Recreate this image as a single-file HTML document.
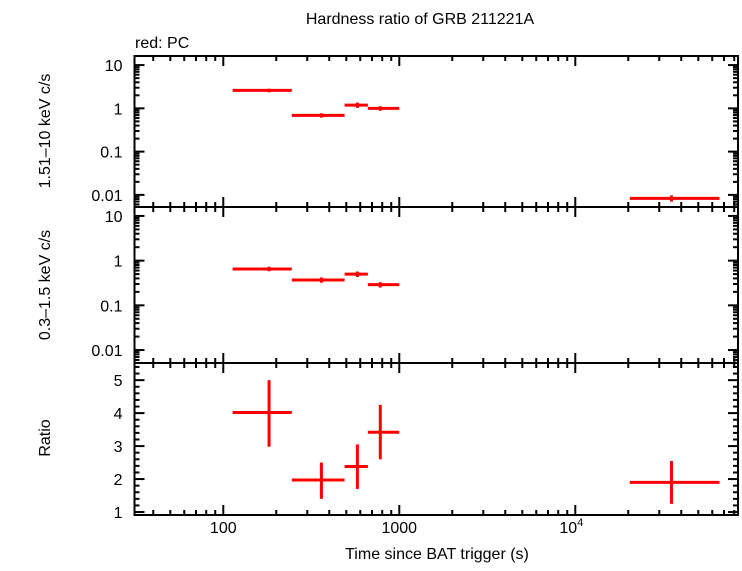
<!DOCTYPE html>
<html><head><meta charset="utf-8"><style>
body{margin:0;background:#fff;}
svg text{font-family:"Liberation Sans",sans-serif;fill:#000;}
</style></head><body>
<svg id="c" width="742" height="566" xmlns="http://www.w3.org/2000/svg">
<text x="420" y="24" font-size="16" text-anchor="middle">Hardness ratio of GRB 211221A</text>
<text x="135" y="48" font-size="16">red: PC</text>
<text transform="translate(50,131) rotate(-90)" font-size="16" text-anchor="middle">1.51–10 keV c/s</text>
<text transform="translate(50,285) rotate(-90)" font-size="16" text-anchor="middle">0.3–1.5 keV c/s</text>
<text transform="translate(50,438) rotate(-90)" font-size="16" text-anchor="middle">Ratio</text>
<text x="437" y="559" font-size="16" text-anchor="middle">Time since BAT trigger (s)</text>
<g id="g"></g>
</svg>
<script>
const tCenter=[182,361,578,780,35200];
const tLo=[113,245,489,663,20400];
const tHi=[245,489,663,1000,66000];
const hard=[2.6,0.69,1.19,1.0,0.0083];
const hardLo=[2.35,0.61,1.02,0.88,0.0070];
const hardHi=[2.85,0.77,1.36,1.12,0.0097];
const soft=[0.65,0.37,0.5,0.29];
const softLo=[0.58,0.32,0.43,0.25];
const softHi=[0.73,0.42,0.57,0.33];
const ratio=[4.02,1.97,2.38,3.42,1.9];
const ratioLo=[2.98,1.4,1.7,2.6,1.25];
const ratioHi=[5.0,2.5,3.05,4.25,2.55];
const xTicks=[100,1000,10000];
const yLogTicks=[10,1,0.1,0.01];
const yRatioTicks=[1,2,3,4,5];

const NS="http://www.w3.org/2000/svg";
const g=document.getElementById('g');
const L=134.5,R=738;
const X=v=>L+(Math.log10(v)-Math.log10(31.3))*176;
const panels=[{t:56,b:207,lo:-2.28,hi:1.21,log:true},{t:207,b:363,lo:-2.29,hi:1.2,log:true},{t:363,b:515,lo:0.91,hi:5.52,log:false}];
function Y(p,v){const u=p.log?Math.log10(v):v;return p.b-(u-p.lo)/(p.hi-p.lo)*(p.b-p.t);}
function line(x1,y1,x2,y2,c,w,name){const l=document.createElementNS(NS,'line');
l.setAttribute('x1',x1);l.setAttribute('y1',y1);l.setAttribute('x2',x2);l.setAttribute('y2',y2);
l.setAttribute('stroke',c);l.setAttribute('stroke-width',w);


g.appendChild(l);return l;}
function text(x,y,s,anchor,name){const t=document.createElementNS(NS,'text');
t.setAttribute('x',x);t.setAttribute('y',y);t.setAttribute('font-size','16');t.setAttribute('text-anchor',anchor);
t.textContent=s;


g.appendChild(t);return t;}
panels.forEach((p,i)=>{
  const r=document.createElementNS(NS,'rect');
  r.setAttribute('x',L);r.setAttribute('y',p.t);r.setAttribute('width',R-L);r.setAttribute('height',p.b-p.t);
  r.setAttribute('fill','none');r.setAttribute('stroke','#000');r.setAttribute('stroke-width','2');
  
  
  g.appendChild(r);
  // x ticks
  for(let d=1;d<=5;d++)for(let m=1;m<=9;m++){const v=m*Math.pow(10,d);const x=X(v);if(x<L||x>R)continue;
    const len=m===1?10:5;
    line(x,p.t,x,p.t+len,'#000',2,'x-tick');line(x,p.b,x,p.b-len,'#000',2,'x-tick');}
  // y ticks
  if(p.log){for(let d=-3;d<=1;d++)for(let m=1;m<=9;m++){const v=m*Math.pow(10,d);const y=Y(p,v);if(y<p.t||y>p.b)continue;
    const len=m===1?10:5;line(L,y,L+len,y,'#000',2,'y-tick');line(R,y,R-len,y,'#000',2,'y-tick');}
    yLogTicks.forEach(v=>text(L-12,Y(p,v)+6,String(v),'end','y-tick-label'));}
  else{for(let v=1;v<=5.5;v+=0.2){const y=Y(p,v);const maj=Math.abs(v-Math.round(v))<1e-6;const len=maj?10:5;
    line(L,y,L+len,y,'#000',2,'y-tick');line(R,y,R-len,y,'#000',2,'y-tick');}
    yRatioTicks.forEach(v=>text(L-12,Y(p,v)+6,String(v),'end','y-tick-label'));}
});
text(X(100),533,'100','middle','x-tick-label-100');
text(X(1000),533,'1000','middle','x-tick-label-1000');
const t4=text(X(10000)-4,533,'10','middle','x-tick-label-10000');
const sup=document.createElementNS(NS,'tspan');sup.setAttribute('font-size','11');sup.setAttribute('dy','-7');sup.textContent='4';t4.appendChild(sup);
function series(p,vals,lo,hi,name){vals.forEach((v,i)=>{
  line(X(tLo[i]),Y(p,v),X(tHi[i]),Y(p,v),'#f00',3,name+'-xerr');
  line(X(tCenter[i]),Y(p,lo[i]),X(tCenter[i]),Y(p,hi[i]),'#f00',3,name+'-yerr');});}
series(panels[0],hard,hardLo,hardHi,'hard-point');
series(panels[1],soft,softLo,softHi,'soft-point');
series(panels[2],ratio,ratioLo,ratioHi,'ratio-point');
</script>
</body></html>
